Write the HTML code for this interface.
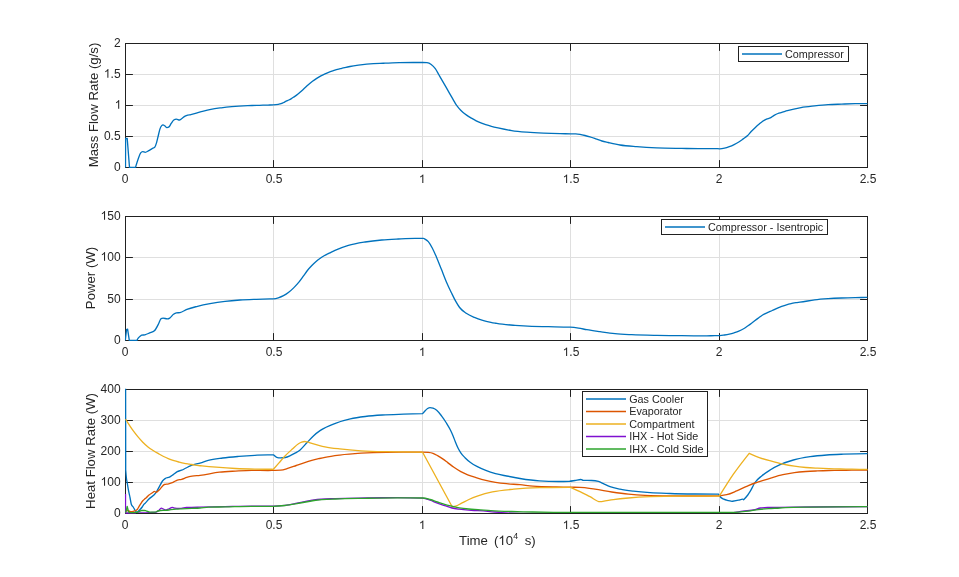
<!DOCTYPE html><html><head><meta charset="utf-8"><style>html,body{margin:0;padding:0;background:#fff;width:959px;height:577px;overflow:hidden}svg{display:block;will-change:transform}text{font-family:"Liberation Sans",sans-serif;fill:#262626}</style></head><body>
<svg width="959" height="577" viewBox="0 0 959 577">
<rect width="959" height="577" fill="#fff"/>
<defs><clipPath id="c1"><rect x="124.8" y="42.8" width="743.4" height="125.4"/></clipPath></defs>
<path d="M273.5 43.5V167.5M422.5 43.5V167.5M570.5 43.5V167.5M719.5 43.5V167.5M125.5 136.5H867.5M125.5 105.5H867.5M125.5 74.5H867.5" stroke="#dfdfdf" stroke-width="1" fill="none"/>
<path d="M125.5 167.5V160.1M125.5 43.5V50.9M273.5 167.5V160.1M273.5 43.5V50.9M422.5 167.5V160.1M422.5 43.5V50.9M570.5 167.5V160.1M570.5 43.5V50.9M719.5 167.5V160.1M719.5 43.5V50.9M867.5 167.5V160.1M867.5 43.5V50.9M125.5 167.5H132.9M867.5 167.5H860.1M125.5 136.5H132.9M867.5 136.5H860.1M125.5 105.5H132.9M867.5 105.5H860.1M125.5 74.5H132.9M867.5 74.5H860.1M125.5 43.5H132.9M867.5 43.5H860.1" stroke="#212121" stroke-width="1" fill="none"/>
<rect x="125.5" y="43.5" width="742.0" height="124.0" stroke="#212121" stroke-width="1" fill="none"/>
<text x="121.86" y="183.00" font-size="12">0</text>
<text x="265.66 272.33 275.67" y="183.00" font-size="12">0.5</text>
<path d="M373,0L285,0L285,560Q253,530 202,500Q151,469 108,453L108,538Q184,574 241,625Q298,676 322,716L373,716Z" fill="#262626" transform="translate(418.86,183.00) scale(0.01200,-0.01200)"/>
<text x="569.33 572.67" y="183.00" font-size="12">.5</text>
<path d="M373,0L285,0L285,560Q253,530 202,500Q151,469 108,453L108,538Q184,574 241,625Q298,676 322,716L373,716Z" fill="#262626" transform="translate(562.66,183.00) scale(0.01200,-0.01200)"/>
<text x="715.86" y="183.00" font-size="12">2</text>
<text x="859.66 866.33 869.67" y="183.00" font-size="12">2.5</text>
<text x="113.93" y="170.70" font-size="12">0</text>
<text x="103.92 110.59 113.93" y="139.70" font-size="12">0.5</text>
<path d="M373,0L285,0L285,560Q253,530 202,500Q151,469 108,453L108,538Q184,574 241,625Q298,676 322,716L373,716Z" fill="#262626" transform="translate(114.73,108.70) scale(0.01200,-0.01200)"/>
<text x="110.59 113.93" y="77.70" font-size="12">.5</text>
<path d="M373,0L285,0L285,560Q253,530 202,500Q151,469 108,453L108,538Q184,574 241,625Q298,676 322,716L373,716Z" fill="#262626" transform="translate(103.92,77.70) scale(0.01200,-0.01200)"/>
<text x="113.93" y="46.70" font-size="12">2</text>
<path d="M125.50,167.40L125.60,138.50L127.20,138.30L129.50,167.40L135.50,167.40C136.53,163.91 137.57,160.41 138.60,157.70C139.30,155.86 140.00,153.86 140.70,152.90C141.33,152.03 141.97,151.60 142.60,151.60C143.47,151.60 144.33,152.30 145.20,152.30C146.37,152.30 147.53,151.33 148.70,150.70C149.83,150.09 150.97,149.22 152.10,148.60C152.97,148.12 153.83,148.17 154.70,147.30C155.30,146.70 155.90,144.86 156.50,142.90C157.07,141.04 157.63,138.30 158.20,136.00C158.77,133.70 159.33,130.82 159.90,129.10C160.50,127.28 161.10,126.25 161.70,125.60C162.13,125.13 162.57,124.90 163.00,124.90C163.57,124.90 164.13,125.43 164.70,125.80C165.43,126.28 166.17,127.60 166.90,127.60C167.60,127.60 168.30,127.37 169.00,126.90C169.73,126.41 170.47,124.47 171.20,123.40C172.07,122.13 172.93,120.60 173.80,120.00C174.67,119.40 175.53,119.10 176.40,119.10C177.40,119.10 178.40,120.00 179.40,120.00C180.13,120.00 180.87,119.17 181.60,118.70C182.77,117.96 183.93,116.81 185.10,116.20C185.97,115.74 186.83,115.44 187.70,115.20C188.47,114.99 189.23,114.95 190.00,114.80C193.47,114.13 196.93,112.81 200.40,111.90C203.90,110.98 207.40,109.98 210.90,109.30C214.37,108.62 217.83,108.23 221.30,107.80C224.77,107.37 228.23,107.01 231.70,106.70C237.03,106.23 242.37,105.94 247.70,105.70C250.47,105.58 253.23,105.49 256.00,105.40C258.33,105.33 260.67,105.27 263.00,105.20C264.67,105.15 266.33,105.10 268.00,105.05C269.73,105.00 271.47,105.00 273.20,104.90C274.93,104.80 276.67,104.63 278.40,104.30C279.27,104.13 280.13,104.00 281.00,103.70C281.87,103.40 282.73,102.92 283.60,102.50C284.47,102.08 285.33,101.62 286.20,101.20C287.07,100.78 287.93,100.43 288.80,100.00C289.67,99.57 290.53,99.12 291.40,98.60C292.27,98.08 293.13,97.48 294.00,96.90C294.87,96.32 295.73,95.75 296.60,95.10C297.47,94.45 298.33,93.73 299.20,93.00C300.07,92.27 300.93,91.48 301.80,90.70C302.67,89.92 303.53,89.11 304.40,88.30C305.60,87.18 306.80,85.96 308.00,84.90C309.50,83.58 311.00,82.42 312.50,81.30C313.90,80.26 315.30,79.30 316.70,78.40C318.10,77.50 319.50,76.67 320.90,75.90C322.27,75.14 323.63,74.43 325.00,73.80C326.40,73.16 327.80,72.62 329.20,72.10C330.60,71.58 332.00,71.17 333.40,70.70C334.77,70.24 336.13,69.70 337.50,69.30C338.90,68.89 340.30,68.63 341.70,68.30C343.10,67.97 344.50,67.60 345.90,67.30C347.27,67.00 348.63,66.75 350.00,66.50C352.80,65.99 355.60,65.59 358.40,65.20C361.17,64.82 363.93,64.48 366.70,64.20C371.13,63.76 375.57,63.45 380.00,63.30C381.80,63.24 383.60,63.24 385.40,63.20C390.03,63.09 394.67,62.82 399.30,62.70C403.90,62.58 408.50,62.50 413.10,62.50C416.27,62.50 419.43,62.50 422.60,62.50C424.07,62.50 425.53,62.57 427.00,62.70C428.40,62.83 429.80,63.48 431.20,64.50C432.57,65.50 433.93,66.81 435.30,68.70C436.53,70.40 437.77,72.89 439.00,75.00C439.93,76.60 440.87,78.19 441.80,79.80C443.07,81.98 444.33,84.18 445.60,86.40C446.87,88.62 448.13,90.89 449.40,93.10C450.70,95.36 452.00,97.57 453.30,99.80C454.23,101.40 455.17,103.19 456.10,104.60C457.07,106.07 458.03,107.26 459.00,108.40C460.27,109.89 461.53,111.08 462.80,112.20C464.07,113.32 465.33,114.21 466.60,115.10C468.20,116.22 469.80,117.15 471.40,118.10C473.00,119.05 474.60,119.99 476.20,120.80C477.77,121.59 479.33,122.27 480.90,122.90C482.50,123.54 484.10,124.07 485.70,124.60C487.60,125.22 489.50,125.78 491.40,126.30C493.60,126.90 495.80,127.40 498.00,127.90C502.57,128.94 507.13,129.90 511.70,130.60C516.73,131.37 521.77,131.78 526.80,132.20C532.33,132.67 537.87,132.95 543.40,133.20C548.97,133.45 554.53,133.60 560.10,133.70C563.60,133.76 567.10,133.74 570.60,133.80C572.30,133.83 574.00,133.83 575.70,133.90C577.13,133.96 578.57,134.16 580.00,134.40C581.67,134.67 583.33,135.08 585.00,135.50C586.67,135.92 588.33,136.39 590.00,136.90C591.90,137.48 593.80,138.15 595.70,138.80C597.77,139.51 599.83,140.39 601.90,141.00C604.00,141.62 606.10,142.02 608.20,142.50C612.13,143.40 616.07,144.35 620.00,145.00C625.57,145.93 631.13,146.24 636.70,146.70C643.37,147.25 650.03,147.63 656.70,147.90C665.07,148.23 673.43,148.27 681.80,148.40C690.13,148.53 698.47,148.70 706.80,148.70C709.53,148.70 712.27,148.60 715.00,148.60C716.60,148.60 718.20,148.80 719.80,148.80C721.37,148.80 722.93,148.54 724.50,148.20C726.10,147.85 727.70,147.30 729.30,146.70C730.90,146.10 732.50,145.39 734.10,144.60C735.67,143.82 737.23,142.99 738.80,142.00C740.40,140.99 742.00,139.76 743.60,138.60C744.87,137.68 746.13,136.98 747.40,135.80C748.67,134.62 749.93,132.84 751.20,131.50C752.50,130.13 753.80,128.91 755.10,127.70C756.37,126.52 757.63,125.38 758.90,124.30C760.17,123.22 761.43,122.07 762.70,121.20C763.97,120.33 765.23,119.65 766.50,119.10C767.77,118.55 769.03,118.52 770.30,117.90C771.57,117.28 772.83,116.13 774.10,115.40C775.37,114.67 776.63,114.00 777.90,113.50C779.20,112.99 780.50,112.81 781.80,112.40C782.87,112.06 783.93,111.63 785.00,111.30C785.80,111.05 786.60,110.82 787.40,110.60C791.93,109.33 796.47,108.38 801.00,107.60C805.53,106.82 810.07,106.40 814.60,105.90C819.10,105.40 823.60,104.90 828.10,104.60C832.63,104.30 837.17,104.25 841.70,104.10C846.20,103.95 850.70,103.77 855.20,103.70C859.27,103.63 863.33,103.62 867.40,103.60" stroke="#0072bd" stroke-width="1.33" fill="none" stroke-linejoin="round" clip-path="url(#c1)"/>
<rect x="738.5" y="46.5" width="110.0" height="15.0" fill="#fff" stroke="#212121" stroke-width="1"/>
<path d="M742.0 54.00H782.0" stroke="#0072bd" stroke-width="1.33"/>
<text x="785.0" y="57.8" font-size="10.8">Compressor</text>
<text transform="translate(98,105) rotate(-90)" font-size="13.2" text-anchor="middle">Mass Flow Rate (g/s)</text>
<defs><clipPath id="c2"><rect x="124.8" y="215.8" width="743.4" height="125.4"/></clipPath></defs>
<path d="M273.5 216.5V340.5M422.5 216.5V340.5M570.5 216.5V340.5M719.5 216.5V340.5M125.5 299.5H867.5M125.5 257.5H867.5" stroke="#dfdfdf" stroke-width="1" fill="none"/>
<path d="M125.5 340.5V333.1M125.5 216.5V223.9M273.5 340.5V333.1M273.5 216.5V223.9M422.5 340.5V333.1M422.5 216.5V223.9M570.5 340.5V333.1M570.5 216.5V223.9M719.5 340.5V333.1M719.5 216.5V223.9M867.5 340.5V333.1M867.5 216.5V223.9M125.5 340.5H132.9M867.5 340.5H860.1M125.5 299.5H132.9M867.5 299.5H860.1M125.5 257.5H132.9M867.5 257.5H860.1M125.5 216.5H132.9M867.5 216.5H860.1" stroke="#212121" stroke-width="1" fill="none"/>
<rect x="125.5" y="216.5" width="742.0" height="124.0" stroke="#212121" stroke-width="1" fill="none"/>
<text x="121.86" y="356.00" font-size="12">0</text>
<text x="265.66 272.33 275.67" y="356.00" font-size="12">0.5</text>
<path d="M373,0L285,0L285,560Q253,530 202,500Q151,469 108,453L108,538Q184,574 241,625Q298,676 322,716L373,716Z" fill="#262626" transform="translate(418.86,356.00) scale(0.01200,-0.01200)"/>
<text x="569.33 572.67" y="356.00" font-size="12">.5</text>
<path d="M373,0L285,0L285,560Q253,530 202,500Q151,469 108,453L108,538Q184,574 241,625Q298,676 322,716L373,716Z" fill="#262626" transform="translate(562.66,356.00) scale(0.01200,-0.01200)"/>
<text x="715.86" y="356.00" font-size="12">2</text>
<text x="859.66 866.33 869.67" y="356.00" font-size="12">2.5</text>
<text x="113.93" y="343.70" font-size="12">0</text>
<text x="107.26 113.93" y="302.70" font-size="12">50</text>
<text x="107.26 113.93" y="260.70" font-size="12">00</text>
<path d="M373,0L285,0L285,560Q253,530 202,500Q151,469 108,453L108,538Q184,574 241,625Q298,676 322,716L373,716Z" fill="#262626" transform="translate(100.58,260.70) scale(0.01200,-0.01200)"/>
<text x="107.26 113.93" y="219.70" font-size="12">50</text>
<path d="M373,0L285,0L285,560Q253,530 202,500Q151,469 108,453L108,538Q184,574 241,625Q298,676 322,716L373,716Z" fill="#262626" transform="translate(100.58,219.70) scale(0.01200,-0.01200)"/>
<path d="M125.30,340.40L126.50,329.70L127.60,329.10L129.30,340.40L136.90,340.40C137.33,339.61 137.77,338.82 138.20,338.20C138.93,337.15 139.67,336.56 140.40,336.00C140.83,335.67 141.27,335.31 141.70,335.20C142.77,334.93 143.83,335.05 144.90,334.80C146.50,334.43 148.10,333.57 149.70,332.90C151.27,332.24 152.83,332.20 154.40,330.80C155.70,329.64 157.00,326.86 158.30,324.40C159.23,322.63 160.17,319.09 161.10,318.60C161.73,318.27 162.37,318.10 163.00,318.10C164.43,318.10 165.87,318.90 167.30,318.90C168.10,318.90 168.90,318.57 169.70,318.10C170.97,317.35 172.23,315.20 173.50,314.30C174.47,313.62 175.43,313.06 176.40,312.90C177.60,312.70 178.80,312.80 180.00,312.60C182.30,312.22 184.60,310.31 186.90,309.40C190.43,308.00 193.97,307.21 197.50,306.30C201.67,305.23 205.83,304.38 210.00,303.60C215.03,302.66 220.07,301.90 225.10,301.30C230.10,300.70 235.10,300.33 240.10,300.00C245.53,299.64 250.97,299.49 256.40,299.30C260.93,299.14 265.47,299.03 270.00,298.90C271.20,298.87 272.40,298.87 273.60,298.80C275.17,298.71 276.73,298.28 278.30,297.80C280.03,297.27 281.77,296.62 283.50,295.70C285.23,294.78 286.97,293.65 288.70,292.30C290.43,290.95 292.17,289.33 293.90,287.60C295.63,285.87 297.37,284.05 299.10,281.90C300.50,280.16 301.90,278.12 303.30,276.20C304.67,274.32 306.03,272.22 307.40,270.50C308.80,268.74 310.20,267.25 311.60,265.80C313.00,264.35 314.40,263.03 315.80,261.80C317.17,260.60 318.53,259.51 319.90,258.50C321.30,257.47 322.70,256.53 324.10,255.70C326.07,254.53 328.03,253.75 330.00,252.80C331.67,251.99 333.33,251.15 335.00,250.40C339.47,248.39 343.93,246.73 348.40,245.40C353.97,243.74 359.53,242.90 365.10,242.00C370.67,241.10 376.23,240.50 381.80,240.00C387.33,239.50 392.87,239.27 398.40,239.00C403.97,238.73 409.53,238.40 415.10,238.40C417.90,238.40 420.70,238.40 423.50,238.40C424.00,238.40 424.50,238.82 425.00,239.10C426.10,239.71 427.20,240.35 428.30,241.60C429.67,243.15 431.03,245.60 432.40,248.20C433.77,250.80 435.13,254.02 436.50,257.20C438.17,261.07 439.83,265.44 441.50,269.60C443.13,273.68 444.77,278.08 446.40,281.90C448.07,285.79 449.73,289.25 451.40,292.70C452.77,295.53 454.13,298.43 455.50,300.90C456.87,303.37 458.23,305.69 459.60,307.50C461.80,310.41 464.00,311.64 466.20,313.20C468.93,315.13 471.67,316.22 474.40,317.40C477.17,318.59 479.93,319.48 482.70,320.30C485.43,321.11 488.17,321.72 490.90,322.30C492.27,322.59 493.63,322.85 495.00,323.10C495.57,323.20 496.13,323.30 496.70,323.40C502.83,324.45 508.97,324.89 515.10,325.40C520.67,325.86 526.23,326.20 531.80,326.40C537.33,326.60 542.87,326.59 548.40,326.70C555.63,326.85 562.87,326.87 570.10,327.20C572.90,327.33 575.70,327.68 578.50,328.10C581.27,328.52 584.03,329.21 586.80,329.70C591.20,330.48 595.60,331.07 600.00,331.70C605.00,332.42 610.00,333.21 615.00,333.70C620.57,334.25 626.13,334.44 631.70,334.70C640.03,335.09 648.37,335.23 656.70,335.40C665.07,335.57 673.43,335.62 681.80,335.70C690.13,335.78 698.47,335.90 706.80,335.90C709.53,335.90 712.27,335.60 715.00,335.60C716.60,335.60 718.20,335.60 719.80,335.60C721.37,335.60 722.93,335.25 724.50,335.00C726.10,334.75 727.70,334.47 729.30,334.10C730.90,333.73 732.50,333.29 734.10,332.80C735.67,332.32 737.23,331.86 738.80,331.20C740.40,330.53 742.00,329.75 743.60,328.80C745.20,327.85 746.80,326.65 748.40,325.50C749.97,324.38 751.53,323.17 753.10,322.00C754.70,320.80 756.30,319.58 757.90,318.40C759.47,317.25 761.03,315.96 762.60,315.00C764.20,314.02 765.80,313.35 767.40,312.60C769.00,311.85 770.60,311.22 772.20,310.50C773.77,309.79 775.33,308.98 776.90,308.30C778.50,307.61 780.10,306.98 781.70,306.40C783.30,305.82 784.90,305.27 786.50,304.80C788.07,304.34 789.63,303.96 791.20,303.60C792.80,303.23 794.40,302.84 796.00,302.60C797.33,302.40 798.67,302.35 800.00,302.20C804.87,301.65 809.73,300.49 814.60,299.90C819.10,299.35 823.60,299.02 828.10,298.70C832.63,298.38 837.17,298.18 841.70,298.00C846.20,297.82 850.70,297.70 855.20,297.60C859.27,297.51 863.33,297.45 867.40,297.40" stroke="#0072bd" stroke-width="1.33" fill="none" stroke-linejoin="round" clip-path="url(#c2)"/>
<rect x="661.5" y="219.5" width="166.0" height="15.0" fill="#fff" stroke="#212121" stroke-width="1"/>
<path d="M665.0 227.00H705.0" stroke="#0072bd" stroke-width="1.33"/>
<text x="708.0" y="230.8" font-size="10.8">Compressor - Isentropic</text>
<text transform="translate(95,278) rotate(-90)" font-size="13.2" text-anchor="middle">Power (W)</text>
<defs><clipPath id="c3"><rect x="124.8" y="388.8" width="743.4" height="125.4"/></clipPath></defs>
<path d="M273.5 389.5V513.5M422.5 389.5V513.5M570.5 389.5V513.5M719.5 389.5V513.5M125.5 482.5H867.5M125.5 451.5H867.5M125.5 420.5H867.5" stroke="#dfdfdf" stroke-width="1" fill="none"/>
<path d="M125.5 513.5V506.1M125.5 389.5V396.9M273.5 513.5V506.1M273.5 389.5V396.9M422.5 513.5V506.1M422.5 389.5V396.9M570.5 513.5V506.1M570.5 389.5V396.9M719.5 513.5V506.1M719.5 389.5V396.9M867.5 513.5V506.1M867.5 389.5V396.9M125.5 513.5H132.9M867.5 513.5H860.1M125.5 482.5H132.9M867.5 482.5H860.1M125.5 451.5H132.9M867.5 451.5H860.1M125.5 420.5H132.9M867.5 420.5H860.1M125.5 389.5H132.9M867.5 389.5H860.1" stroke="#212121" stroke-width="1" fill="none"/>
<rect x="125.5" y="389.5" width="742.0" height="124.0" stroke="#212121" stroke-width="1" fill="none"/>
<text x="121.86" y="529.00" font-size="12">0</text>
<text x="265.66 272.33 275.67" y="529.00" font-size="12">0.5</text>
<path d="M373,0L285,0L285,560Q253,530 202,500Q151,469 108,453L108,538Q184,574 241,625Q298,676 322,716L373,716Z" fill="#262626" transform="translate(418.86,529.00) scale(0.01200,-0.01200)"/>
<text x="569.33 572.67" y="529.00" font-size="12">.5</text>
<path d="M373,0L285,0L285,560Q253,530 202,500Q151,469 108,453L108,538Q184,574 241,625Q298,676 322,716L373,716Z" fill="#262626" transform="translate(562.66,529.00) scale(0.01200,-0.01200)"/>
<text x="715.86" y="529.00" font-size="12">2</text>
<text x="859.66 866.33 869.67" y="529.00" font-size="12">2.5</text>
<text x="113.93" y="516.70" font-size="12">0</text>
<text x="107.26 113.93" y="485.70" font-size="12">00</text>
<path d="M373,0L285,0L285,560Q253,530 202,500Q151,469 108,453L108,538Q184,574 241,625Q298,676 322,716L373,716Z" fill="#262626" transform="translate(100.58,485.70) scale(0.01200,-0.01200)"/>
<text x="100.58 107.26 113.93" y="454.70" font-size="12">200</text>
<text x="100.58 107.26 113.93" y="423.70" font-size="12">300</text>
<text x="100.58 107.26 113.93" y="392.70" font-size="12">400</text>
<path d="M125.60,385.00L125.70,470.00C125.93,472.96 126.17,475.92 126.40,478.00C126.67,480.37 126.93,481.21 127.20,482.80C127.60,485.19 128.00,487.72 128.40,489.90C128.97,492.98 129.53,495.17 130.10,498.00C130.50,500.00 130.90,503.02 131.30,504.20C131.93,506.07 132.57,505.97 133.20,507.00C133.80,507.98 134.40,509.24 135.00,510.20C135.33,510.73 135.67,511.33 136.00,511.70C136.30,512.04 136.60,512.22 136.90,512.40C137.33,512.09 137.77,511.79 138.20,511.40C138.80,510.87 139.40,510.16 140.00,509.50C140.73,508.70 141.47,507.97 142.20,507.00C142.83,506.17 143.47,504.97 144.10,504.20C144.73,503.43 145.37,503.06 146.00,502.40C146.90,501.46 147.80,500.19 148.70,499.20C151.00,496.68 153.30,496.53 155.60,493.20C156.77,491.51 157.93,489.16 159.10,487.10C160.23,485.10 161.37,482.47 162.50,481.00C163.37,479.87 164.23,479.19 165.10,478.60C166.57,477.60 168.03,477.85 169.50,477.10C170.63,476.52 171.77,475.68 172.90,474.90C174.37,473.89 175.83,472.39 177.30,471.60C178.73,470.83 180.17,470.79 181.60,470.20C183.07,469.60 184.53,468.74 186.00,468.00C187.43,467.27 188.87,466.41 190.30,465.80C192.03,465.06 193.77,464.55 195.50,464.10C197.00,463.71 198.50,463.58 200.00,463.20C202.73,462.52 205.47,461.16 208.20,460.40C213.03,459.06 217.87,458.65 222.70,458.00C228.07,457.28 233.43,456.85 238.80,456.40C244.17,455.95 249.53,455.58 254.90,455.30C259.20,455.08 263.50,454.80 267.80,454.80C269.67,454.80 271.53,454.80 273.40,454.80C274.50,455.88 275.60,456.96 276.70,457.30C278.00,457.70 279.30,457.90 280.60,457.90C282.17,457.90 283.73,457.77 285.30,457.50C287.10,457.19 288.90,456.23 290.70,455.40C292.30,454.67 293.90,453.84 295.50,452.90C297.03,452.00 298.57,451.15 300.10,449.90C302.43,448.00 304.77,444.95 307.10,442.50C309.20,440.29 311.30,437.84 313.40,435.90C315.73,433.75 318.07,432.00 320.40,430.40C325.40,426.97 330.40,425.22 335.40,423.30C340.37,421.39 345.33,420.03 350.30,418.90C355.27,417.77 360.23,417.13 365.20,416.50C370.90,415.78 376.60,415.37 382.30,415.00C389.40,414.54 396.50,414.42 403.60,414.20C409.93,414.00 416.27,413.85 422.60,413.70C423.23,412.94 423.87,412.19 424.50,411.50C425.53,410.38 426.57,409.15 427.60,408.50C428.40,407.99 429.20,407.60 430.00,407.60C431.00,407.60 432.00,407.84 433.00,408.20C434.23,408.65 435.47,409.29 436.70,410.30C438.30,411.61 439.90,413.71 441.50,415.80C443.13,417.93 444.77,420.35 446.40,423.00C447.73,425.17 449.07,427.30 450.40,430.00C451.33,431.89 452.27,433.92 453.20,436.20C453.90,437.91 454.60,439.95 455.30,441.70C456.20,443.94 457.10,446.17 458.00,448.00C458.93,449.89 459.87,451.40 460.80,452.80C462.20,454.89 463.60,456.24 465.00,457.70C466.83,459.61 468.67,461.11 470.50,462.50C472.80,464.24 475.10,465.47 477.40,466.70C480.20,468.19 483.00,469.31 485.80,470.40C489.03,471.66 492.27,472.70 495.50,473.60C499.20,474.62 502.90,475.25 506.60,476.00C511.07,476.91 515.53,477.78 520.00,478.50C526.43,479.54 532.87,480.50 539.30,480.90C545.70,481.30 552.10,481.50 558.50,481.50C562.03,481.50 565.57,481.43 569.10,481.30C571.07,481.23 573.03,480.80 575.00,480.50C576.93,480.20 578.87,479.50 580.80,479.50C581.63,479.50 582.47,480.38 583.30,480.40C586.10,480.47 588.90,480.43 591.70,480.50C593.93,480.55 596.17,480.80 598.40,481.40C600.07,481.85 601.73,482.94 603.40,483.70C605.60,484.71 607.80,485.88 610.00,486.70C613.33,487.94 616.67,488.51 620.00,489.20C624.47,490.12 628.93,490.65 633.40,491.20C638.97,491.88 644.53,492.33 650.10,492.70C656.77,493.15 663.43,493.29 670.10,493.50C678.43,493.76 686.77,493.88 695.10,494.00C702.90,494.11 710.70,494.15 718.50,494.20C718.87,494.83 719.23,495.47 719.60,496.00C721.00,498.04 722.40,498.44 723.80,499.20C725.33,500.03 726.87,500.23 728.40,500.60C729.63,500.90 730.87,501.10 732.10,501.30C734.20,500.97 736.30,500.65 738.40,500.20C739.80,499.90 741.20,499.20 742.60,499.20C742.93,499.20 743.27,499.45 743.60,499.70C745.00,498.31 746.40,496.92 747.80,495.00C748.53,494.00 749.27,492.88 750.00,491.70C751.67,489.03 753.33,484.96 755.00,482.50C757.23,479.21 759.47,477.82 761.70,475.90C764.50,473.49 767.30,471.75 770.10,470.00C773.43,467.92 776.77,466.21 780.10,464.70C784.53,462.69 788.97,461.26 793.40,460.00C798.97,458.42 804.53,457.53 810.10,456.70C815.67,455.87 821.23,455.42 826.80,455.00C832.37,454.58 837.93,454.41 843.50,454.20C851.27,453.91 859.03,453.70 866.80,453.70C867.03,453.70 867.27,453.70 867.50,453.70" stroke="#0072bd" stroke-width="1.33" fill="none" stroke-linejoin="round" clip-path="url(#c3)"/>
<path d="M125.60,511.50C126.10,511.05 126.60,510.60 127.10,510.60C127.77,510.60 128.43,510.67 129.10,510.80C129.30,510.84 129.50,511.37 129.70,511.40C130.53,511.53 131.37,511.60 132.20,511.60C132.93,511.60 133.67,511.33 134.40,511.10C134.93,510.93 135.47,510.84 136.00,510.50C136.40,510.25 136.80,509.96 137.20,509.50C137.83,508.78 138.47,507.43 139.10,506.40C139.73,505.37 140.37,504.25 141.00,503.30C141.60,502.40 142.20,501.52 142.80,500.80C143.43,500.04 144.07,499.42 144.70,498.90C145.13,498.55 145.57,498.34 146.00,498.00C146.90,497.29 147.80,496.10 148.70,495.30C150.13,494.03 151.57,493.29 153.00,492.30C153.43,492.00 153.87,491.40 154.30,491.40C154.87,491.40 155.43,492.30 156.00,492.30C157.30,492.30 158.60,490.40 159.90,489.20C161.37,487.85 162.83,484.98 164.30,484.50C165.73,484.03 167.17,484.16 168.60,483.80C170.07,483.43 171.53,482.93 173.00,482.30C174.43,481.69 175.87,480.60 177.30,480.10C178.73,479.60 180.17,479.68 181.60,479.30C183.33,478.84 185.07,477.92 186.80,477.40C188.53,476.88 190.27,476.51 192.00,476.20C194.67,475.72 197.33,475.72 200.00,475.40C206.47,474.63 212.93,472.93 219.40,472.20C224.77,471.60 230.13,471.40 235.50,471.10C240.87,470.80 246.23,470.40 251.60,470.40C257.07,470.40 262.53,470.50 268.00,470.50C269.73,470.50 271.47,470.44 273.20,470.40C275.67,470.34 278.13,470.33 280.60,470.20C283.20,470.06 285.80,468.98 288.40,468.20C291.00,467.42 293.60,466.40 296.20,465.50C298.80,464.60 301.40,463.65 304.00,462.80C306.60,461.95 309.20,461.12 311.80,460.40C314.40,459.68 317.00,459.10 319.60,458.50C321.40,458.08 323.20,457.66 325.00,457.30C329.90,456.31 334.80,455.71 339.70,455.10C346.80,454.21 353.90,453.66 361.00,453.20C369.50,452.65 378.00,452.40 386.50,452.30C398.23,452.17 409.97,452.10 421.70,452.10C423.87,452.10 426.03,452.20 428.20,452.40C429.80,452.55 431.40,452.73 433.00,453.30C434.63,453.88 436.27,454.96 437.90,455.90C439.50,456.83 441.10,457.81 442.70,458.90C444.37,460.04 446.03,461.35 447.70,462.60C449.77,464.15 451.83,465.87 453.90,467.30C456.20,468.90 458.50,470.35 460.80,471.60C463.10,472.85 465.40,473.87 467.70,474.80C470.47,475.92 473.23,476.73 476.00,477.60C479.27,478.62 482.53,479.61 485.80,480.40C489.03,481.18 492.27,481.77 495.50,482.30C499.20,482.90 502.90,483.32 506.60,483.70C511.07,484.16 515.53,484.27 520.00,484.70C524.30,485.11 528.60,485.91 532.90,486.20C540.70,486.73 548.50,486.83 556.30,487.00C561.07,487.10 565.83,487.14 570.60,487.20C573.73,487.24 576.87,487.23 580.00,487.30C585.00,487.41 590.00,488.47 595.00,489.20C600.57,490.01 606.13,491.17 611.70,492.00C617.27,492.83 622.83,493.63 628.40,494.20C633.97,494.77 639.53,495.18 645.10,495.40C653.43,495.73 661.77,495.83 670.10,495.90C678.43,495.97 686.77,496.00 695.10,496.00C703.17,496.00 711.23,495.95 719.30,495.90C721.77,495.61 724.23,495.33 726.70,494.70C730.03,493.85 733.37,492.28 736.70,490.90C740.03,489.52 743.37,487.83 746.70,486.40C749.47,485.22 752.23,483.98 755.00,483.00C756.67,482.41 758.33,481.93 760.00,481.40C763.83,480.18 767.67,478.92 771.50,477.80C775.30,476.69 779.10,475.56 782.90,474.70C786.73,473.83 790.57,473.13 794.40,472.60C798.23,472.07 802.07,471.78 805.90,471.50C809.73,471.22 813.57,471.07 817.40,470.90C821.20,470.73 825.00,470.60 828.80,470.50C832.63,470.40 836.47,470.35 840.30,470.30C844.13,470.25 847.97,470.23 851.80,470.20C857.03,470.16 862.27,470.13 867.50,470.10" stroke="#dc5500" stroke-width="1.33" fill="none" stroke-linejoin="round" clip-path="url(#c3)"/>
<path d="M125.60,419.10C126.47,420.56 127.33,422.02 128.20,423.40C129.60,425.63 131.00,427.73 132.40,429.70C134.13,432.14 135.87,434.32 137.60,436.40C139.33,438.48 141.07,440.45 142.80,442.20C144.53,443.95 146.27,445.52 148.00,446.90C149.73,448.28 151.47,449.38 153.20,450.50C154.93,451.62 156.67,452.60 158.40,453.60C160.13,454.60 161.87,455.63 163.60,456.50C165.33,457.37 167.07,458.10 168.80,458.80C170.53,459.50 172.27,460.15 174.00,460.70C175.73,461.25 177.47,461.67 179.20,462.10C180.93,462.53 182.67,462.95 184.40,463.30C186.13,463.65 187.87,463.90 189.60,464.20C191.33,464.50 193.07,464.85 194.80,465.10C197.20,465.45 199.60,465.65 202.00,465.90C206.73,466.39 211.47,466.82 216.20,467.20C222.63,467.72 229.07,468.18 235.50,468.50C241.97,468.82 248.43,468.97 254.90,469.10C261.07,469.23 267.23,469.26 273.40,469.30C275.27,467.18 277.13,465.05 279.00,462.90C280.83,460.79 282.67,458.47 284.50,456.50C287.10,453.71 289.70,451.45 292.30,449.10C294.37,447.23 296.43,444.99 298.50,443.70C299.57,443.03 300.63,442.47 301.70,442.10C302.73,441.74 303.77,441.50 304.80,441.50C305.57,441.50 306.33,441.73 307.10,441.90C308.67,442.25 310.23,442.92 311.80,443.40C314.40,444.19 317.00,444.96 319.60,445.60C321.40,446.04 323.20,446.44 325.00,446.80C329.90,447.78 334.80,448.31 339.70,448.90C346.80,449.76 353.90,450.34 361.00,450.80C369.50,451.35 378.00,451.51 386.50,451.70C398.23,451.97 409.97,451.83 421.70,452.10C422.00,452.11 422.30,452.20 422.60,452.30L452.30,507.00C453.40,506.78 454.50,506.57 455.60,506.20C457.60,505.53 459.60,504.21 461.60,503.20C464.03,501.98 466.47,500.61 468.90,499.50C471.93,498.11 474.97,496.96 478.00,495.90C482.80,494.22 487.60,492.94 492.40,491.90C499.50,490.36 506.60,489.88 513.70,489.20C522.23,488.38 530.77,487.92 539.30,487.70C549.73,487.43 560.17,487.37 570.60,487.30C573.73,488.74 576.87,490.18 580.00,491.70C583.33,493.31 586.67,495.03 590.00,496.70C593.33,498.37 596.67,501.70 600.00,501.70C600.57,501.70 601.13,501.70 601.70,501.70C605.60,500.98 609.50,500.27 613.40,499.70C618.40,498.97 623.40,498.46 628.40,498.00C635.63,497.34 642.87,496.96 650.10,496.70C659.53,496.37 668.97,496.20 678.40,496.20C692.03,496.20 705.67,496.20 719.30,496.20C724.00,488.60 728.70,481.01 733.40,474.20C738.67,466.57 743.93,459.94 749.20,453.30C752.80,454.91 756.40,456.51 760.00,457.80C763.83,459.17 767.67,460.15 771.50,461.20C775.30,462.24 779.10,463.27 782.90,464.10C786.73,464.94 790.57,465.63 794.40,466.20C798.23,466.77 802.07,467.17 805.90,467.50C809.73,467.83 813.57,468.00 817.40,468.20C821.20,468.40 825.00,468.57 828.80,468.70C832.63,468.83 836.47,468.92 840.30,469.00C844.13,469.08 847.97,469.14 851.80,469.20C857.03,469.28 862.27,469.34 867.50,469.40" stroke="#edb120" stroke-width="1.33" fill="none" stroke-linejoin="round" clip-path="url(#c3)"/>
<path d="M125.50,494.00L125.50,512.80L127.00,513.00C129.80,512.97 132.60,512.94 135.40,512.90C137.27,512.87 139.13,512.80 141.00,512.80C142.67,512.80 144.33,512.80 146.00,512.80C147.33,512.80 148.67,512.67 150.00,512.60C152.10,512.48 154.20,512.47 156.30,512.20C157.17,512.09 158.03,511.23 158.90,510.50C159.67,509.86 160.43,508.20 161.20,508.20C162.00,508.20 162.80,508.87 163.60,509.20C164.27,509.47 164.93,510.00 165.60,510.00C166.47,510.00 167.33,509.54 168.20,509.20C169.10,508.85 170.00,508.25 170.90,507.90C171.40,507.71 171.90,507.40 172.40,507.40C173.27,507.40 174.13,508.11 175.00,508.20C176.23,508.33 177.47,508.40 178.70,508.40C179.57,508.40 180.43,508.37 181.30,508.30C183.03,508.17 184.77,507.40 186.50,507.40C188.23,507.40 189.97,507.40 191.70,507.40C194.47,507.40 197.23,507.27 200.00,507.20C208.33,507.00 216.67,506.78 225.00,506.60C233.87,506.41 242.73,506.10 251.60,506.10C258.87,506.10 266.13,506.10 273.40,506.10C277.27,506.10 281.13,505.77 285.00,505.30C289.00,504.82 293.00,503.94 297.00,503.20C302.70,502.15 308.40,500.44 314.10,499.80C321.20,499.00 328.30,498.89 335.40,498.60C345.33,498.20 355.27,498.15 365.20,498.00C375.87,497.84 386.53,497.70 397.20,497.70C405.73,497.70 414.27,497.87 422.80,498.20C425.23,498.30 427.67,499.37 430.10,500.20C432.53,501.03 434.97,502.30 437.40,503.20C439.83,504.10 442.27,504.80 444.70,505.60C447.13,506.40 449.57,507.40 452.00,508.00C454.40,508.59 456.80,508.87 459.20,509.20C462.43,509.65 465.67,509.95 468.90,510.20C471.93,510.44 474.97,510.51 478.00,510.70C482.00,510.95 486.00,511.27 490.00,511.60C493.77,511.91 497.53,512.34 501.30,512.60C507.53,513.03 513.77,513.30 520.00,513.30C586.67,513.30 653.33,513.30 720.00,513.30C724.03,513.30 728.07,513.13 732.10,512.80C735.60,512.51 739.10,511.69 742.60,511.20C746.77,510.61 750.93,510.66 755.10,509.60C756.83,509.16 758.57,508.21 760.30,508.00C763.07,507.67 765.83,507.60 768.60,507.50C772.40,507.37 776.20,507.36 780.00,507.30C790.03,507.14 800.07,507.09 810.10,507.00C829.23,506.83 848.37,506.71 867.50,506.60" stroke="#7f10d0" stroke-width="1.33" fill="none" stroke-linejoin="round" clip-path="url(#c3)"/>
<path d="M125.40,512.60C125.70,512.07 126.00,511.53 126.30,510.50C126.60,509.47 126.90,507.93 127.20,506.40L128.50,511.70C128.70,512.03 128.90,512.36 129.10,512.40C130.13,512.60 131.17,512.70 132.20,512.70C133.57,512.70 134.93,512.60 136.30,512.40C137.23,512.26 138.17,511.73 139.10,511.40C139.93,511.10 140.77,510.50 141.60,510.50C142.63,510.50 143.67,510.50 144.70,510.50C145.13,510.50 145.57,510.69 146.00,510.80C147.33,511.14 148.67,512.10 150.00,512.10C151.73,512.10 153.47,512.10 155.20,512.10C156.07,512.10 156.93,511.27 157.80,511.00C158.67,510.73 159.53,510.53 160.40,510.50C162.13,510.43 163.87,510.47 165.60,510.40C167.37,510.33 169.13,509.90 170.90,509.70C172.63,509.50 174.37,509.33 176.10,509.20C177.83,509.07 179.57,508.99 181.30,508.90C184.77,508.71 188.23,508.57 191.70,508.40C194.47,508.27 197.23,508.20 200.00,508.00C202.80,507.80 205.60,507.30 208.40,507.20C213.93,507.00 219.47,507.01 225.00,506.90C233.87,506.72 242.73,506.30 251.60,506.30C258.87,506.30 266.13,506.30 273.40,506.30C277.27,506.30 281.13,505.92 285.00,505.50C289.00,505.06 293.00,504.36 297.00,503.70C302.70,502.76 308.40,501.27 314.10,500.50C321.20,499.54 328.30,499.33 335.40,499.00C345.33,498.53 355.27,498.48 365.20,498.30C375.87,498.11 386.53,497.90 397.20,497.90C405.73,497.90 414.27,497.93 422.80,498.00C425.23,498.02 427.67,498.83 430.10,499.50C432.53,500.17 434.97,501.18 437.40,502.00C439.83,502.82 442.27,503.70 444.70,504.40C447.13,505.10 449.57,505.63 452.00,506.20C454.40,506.76 456.80,507.37 459.20,507.80C462.43,508.38 465.67,508.70 468.90,509.00C471.93,509.28 474.97,509.39 478.00,509.60C482.30,509.90 486.60,510.32 490.90,510.60C497.83,511.05 504.77,511.27 511.70,511.50C518.67,511.73 525.63,511.87 532.60,512.00C545.07,512.24 557.53,512.38 570.00,512.40C606.67,512.47 643.33,512.50 680.00,512.50C697.37,512.50 714.73,512.50 732.10,512.50C737.33,512.50 742.57,511.86 747.80,511.20C751.27,510.76 754.73,510.03 758.20,509.60C761.67,509.17 765.13,508.86 768.60,508.60C772.40,508.31 776.20,508.27 780.00,508.00C781.70,507.88 783.40,507.67 785.10,507.60C793.43,507.27 801.77,507.22 810.10,507.10C829.23,506.83 848.37,506.77 867.50,506.70" stroke="#2da52d" stroke-width="1.33" fill="none" stroke-linejoin="round" clip-path="url(#c3)"/>
<path d="M136 513.5H867" stroke="#212121" stroke-width="1"/>
<rect x="582.5" y="391.5" width="125.0" height="65.0" fill="#fff" stroke="#212121" stroke-width="1"/>
<path d="M586.0 399.00H626.0" stroke="#0072bd" stroke-width="1.33"/>
<text x="629.2" y="402.8" font-size="10.8">Gas Cooler</text>
<path d="M586.0 411.50H626.0" stroke="#dc5500" stroke-width="1.33"/>
<text x="629.2" y="415.3" font-size="10.8">Evaporator</text>
<path d="M586.0 424.00H626.0" stroke="#edb120" stroke-width="1.33"/>
<text x="629.2" y="427.8" font-size="10.8">Compartment</text>
<path d="M586.0 436.50H626.0" stroke="#7f10d0" stroke-width="1.33"/>
<text x="629.2" y="440.3" font-size="10.8">IHX - Hot Side</text>
<path d="M586.0 449.00H626.0" stroke="#2da52d" stroke-width="1.33"/>
<text x="629.2" y="452.8" font-size="10.8">IHX - Cold Side</text>
<text transform="translate(95,451) rotate(-90)" font-size="13.2" text-anchor="middle">Heat Flow Rate (W)</text>
<text x="459.1" y="545" font-size="13.2">Time</text>
<text x="493.90 505.63" y="545.00" font-size="13.2">(0</text>
<path d="M373,0L285,0L285,560Q253,530 202,500Q151,469 108,453L108,538Q184,574 241,625Q298,676 322,716L373,716Z" fill="#262626" transform="translate(498.30,545.00) scale(0.01320,-0.01320)"/>
<text x="513.3" y="539.3" font-size="8.8">4</text>
<text x="524.7" y="545" font-size="13.2">s)</text>
</svg></body></html>
